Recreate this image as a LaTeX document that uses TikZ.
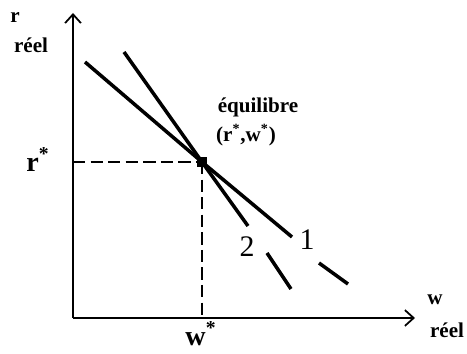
\documentclass[tikz,border=0pt]{standalone}
\usepackage{fontspec}
\setmainfont{Liberation Serif}
\usetikzlibrary{arrows.meta}

\begin{document}
\begin{tikzpicture}[x=0.02cm,y=-0.02cm]
    \useasboundingbox (0,0) rectangle (467,354);
    \tikzset{
      axe/.style={line width=0.8pt,-{Straight Barb[length=5pt,width=9pt,line width=1pt]}},
      courbe/.style={line width=2pt},
      repere/.style={line width=0.6pt,dash pattern=on 7pt off 3pt},
      etiq/.style={font=\bfseries\fontsize{12}{13}\selectfont,inner sep=0pt},
      grand/.style={font=\bfseries\fontsize{16}{17}\selectfont,inner sep=0pt},
      num/.style={font=\fontsize{17}{18}\selectfont,inner sep=0pt}
    }
    % axes
    \coordinate (O) at (73,318);
    \coordinate (ytop) at (73,13);
    \coordinate (xend) at (415,318);
    \draw[axe] (O) -- (ytop);
    \draw[axe] (O) -- (xend);
    % point d'equilibre
    \node[fill=black,minimum size=0.2cm,inner sep=0pt] (eq) at (202,162) {};
    \coordinate (ry) at (73,162);
    \coordinate (wx) at (202,318);
    % pointilles
    \draw[repere] (ry) -- (eq.center);
    \draw[repere] (eq.center) -- (wx);
    % droite 1
    \coordinate (a1) at (85,62);
    \coordinate (b1) at (292,237);
    \coordinate (c1) at (319,263);
    \coordinate (d1) at (348,284);
    \draw[courbe] (a1) -- (eq.center) -- (b1);
    \draw[courbe] (c1) -- (d1);
    % droite 2
    \coordinate (a2) at (124,52);
    \coordinate (b2) at (248,226);
    \coordinate (c2) at (267,253);
    \coordinate (d2) at (291,289);
    \draw[courbe] (a2) -- (eq.center) -- (b2);
    \draw[courbe] (c2) -- (d2);
    % textes
    \node[etiq] (ry1) at (15,18) {r};
    \node[etiq] (ry2) at (31,45) {réel};
    \node[etiq] (wx1) at (435,300) {w};
    \node[etiq] (wx2) at (447,330) {réel};
    \node[grand] (rstar) at (38,160) {r\textsuperscript{*}};
    \node[grand,anchor=base] (wstar) at (201,346) {w\textsuperscript{*}};
    \node[etiq] (lab) at (258,107) {équilibre};
    \node[etiq] (coord) at (246,135) {(r\textsuperscript{*},w\textsuperscript{*})};
    \node[num] (n1) at (307,240) {1};
    \node[num] (n2) at (247,247) {2};
\end{tikzpicture}
\end{document}
